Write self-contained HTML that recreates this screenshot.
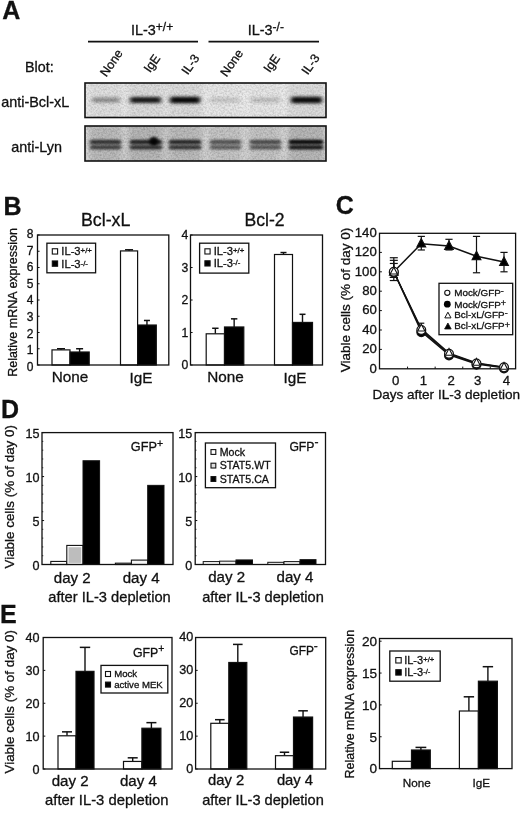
<!DOCTYPE html>
<html><head><meta charset="utf-8"><title>Figure</title>
<style>
html,body{margin:0;padding:0;background:#fff;}
svg{display:block;}
text{font-family:"Liberation Sans",sans-serif;fill:#111;stroke:#111;stroke-width:0.3px;}
</style></head>
<body>
<svg width="520" height="813" viewBox="0 0 520 813">
<rect x="0" y="0" width="520" height="813" fill="#fff"/>
<text x="2.2" y="19.2" font-size="25" text-anchor="start" font-weight="bold">A</text>
<text x="131" y="34.5" font-size="14.4" text-anchor="start">IL-3<tspan font-size="12" dy="-3.3">+/+</tspan></text>
<text x="247.8" y="34.5" font-size="14.4" text-anchor="start">IL-3<tspan font-size="12" dy="-3.3">-/-</tspan></text>
<line x1="88" y1="41.6" x2="198" y2="41.6" stroke="#111" stroke-width="1.6"/>
<line x1="208.5" y1="41.6" x2="319" y2="41.6" stroke="#111" stroke-width="1.6"/>
<text x="25" y="71.8" font-size="14.3" text-anchor="start">Blot:</text>
<text x="111.2" y="67.2" font-size="12.4" text-anchor="middle" transform="rotate(-55 111.2 62.8)">None</text>
<text x="151.8" y="67.6" font-size="12.4" text-anchor="middle" transform="rotate(-55 151.8 63.2)">IgE</text>
<text x="190.2" y="68.6" font-size="12.4" text-anchor="middle" transform="rotate(-55 190.2 64.2)">IL-3</text>
<text x="231.5" y="67.2" font-size="12.4" text-anchor="middle" transform="rotate(-55 231.5 62.8)">None</text>
<text x="271.6" y="67.6" font-size="12.4" text-anchor="middle" transform="rotate(-55 271.6 63.2)">IgE</text>
<text x="310.4" y="68.6" font-size="12.4" text-anchor="middle" transform="rotate(-55 310.4 64.2)">IL-3</text>
<text x="1.2" y="106.9" font-size="14.4" text-anchor="start">anti-Bcl-xL</text>
<text x="11.3" y="152.4" font-size="14.4" text-anchor="start">anti-Lyn</text>
<defs><filter id="b1" x="-20%" y="-100%" width="140%" height="300%"><feGaussianBlur stdDeviation="2 1.4"/></filter><filter id="b2" x="-20%" y="-100%" width="140%" height="300%"><feGaussianBlur stdDeviation="1.8 1.05"/></filter><filter id="b3" x="-20%" y="-20%" width="140%" height="140%"><feGaussianBlur stdDeviation="3 2"/></filter><filter id="gr" x="0" y="0" width="100%" height="100%"><feTurbulence type="fractalNoise" baseFrequency="0.55" numOctaves="2" seed="7"/><feColorMatrix type="matrix" values="0 0 0 0 0  0 0 0 0 0  0 0 0 0 0  0.9 0 0 0 -0.32"/></filter><clipPath id="c1"><rect x="85" y="83" width="241" height="34.5"/></clipPath><clipPath id="c2"><rect x="85" y="126" width="241" height="35"/></clipPath></defs>
<rect x="85" y="83" width="241" height="34.5" fill="#efefef"/>
<g clip-path="url(#c1)">
<rect x="88" y="80" width="35" height="40" fill="#000" opacity="0.06" filter="url(#b3)"/>
<rect x="127" y="80" width="37" height="40" fill="#000" opacity="0.08" filter="url(#b3)"/>
<rect x="167" y="80" width="36" height="40" fill="#000" opacity="0.08" filter="url(#b3)"/>
<rect x="207" y="80" width="36" height="40" fill="#000" opacity="0.03" filter="url(#b3)"/>
<rect x="247" y="80" width="35" height="40" fill="#000" opacity="0.03" filter="url(#b3)"/>
<rect x="287" y="80" width="38" height="40" fill="#000" opacity="0.08" filter="url(#b3)"/>
<rect x="92" y="97.5" width="28" height="5" rx="2" fill="#000" opacity="0.36" filter="url(#b1)"/>
<rect x="130" y="97" width="31" height="6" rx="2" fill="#000" opacity="0.88" filter="url(#b1)"/>
<rect x="170" y="96.75" width="30" height="6.5" rx="2" fill="#000" opacity="0.96" filter="url(#b1)"/>
<rect x="210" y="97.5" width="30" height="5" rx="2" fill="#000" opacity="0.13" filter="url(#b1)"/>
<rect x="251" y="97.5" width="29" height="5" rx="2" fill="#000" opacity="0.17" filter="url(#b1)"/>
<rect x="291" y="96.75" width="31" height="6.5" rx="2" fill="#000" opacity="0.94" filter="url(#b1)"/>
<rect x="85" y="83" width="241" height="34.5" filter="url(#gr)" opacity="0.35"/>
</g>
<rect x="85" y="83" width="241" height="34.5" fill="none" stroke="#111" stroke-width="1.6"/>
<rect x="85" y="126" width="241" height="35" fill="#e2e2e2"/>
<g clip-path="url(#c2)">
<rect x="88" y="122" width="35" height="44" fill="#000" opacity="0.16" filter="url(#b3)"/>
<rect x="127" y="122" width="37" height="44" fill="#000" opacity="0.18" filter="url(#b3)"/>
<rect x="167" y="122" width="36" height="44" fill="#000" opacity="0.16" filter="url(#b3)"/>
<rect x="207" y="122" width="36" height="44" fill="#000" opacity="0.12" filter="url(#b3)"/>
<rect x="247" y="122" width="35" height="44" fill="#000" opacity="0.12" filter="url(#b3)"/>
<rect x="287" y="122" width="38" height="44" fill="#000" opacity="0.18" filter="url(#b3)"/>
<rect x="90" y="139.5" width="31" height="10" rx="2" fill="#000" opacity="0.2048" filter="url(#b1)"/>
<rect x="90" y="139.9" width="31" height="4.2" rx="1.5" fill="#000" opacity="0.64" filter="url(#b2)"/>
<rect x="90" y="145.4" width="31" height="3.8" rx="1.5" fill="#000" opacity="0.576" filter="url(#b2)"/>
<rect x="130" y="139.5" width="32" height="10" rx="2" fill="#000" opacity="0.2304" filter="url(#b1)"/>
<rect x="130" y="139.9" width="32" height="4.2" rx="1.5" fill="#000" opacity="0.72" filter="url(#b2)"/>
<rect x="130" y="145.4" width="32" height="3.8" rx="1.5" fill="#000" opacity="0.648" filter="url(#b2)"/>
<rect x="169" y="139.5" width="32" height="10" rx="2" fill="#000" opacity="0.224" filter="url(#b1)"/>
<rect x="169" y="139.9" width="32" height="4.2" rx="1.5" fill="#000" opacity="0.7" filter="url(#b2)"/>
<rect x="169" y="145.4" width="32" height="3.8" rx="1.5" fill="#000" opacity="0.63" filter="url(#b2)"/>
<rect x="210" y="139.5" width="31" height="10" rx="2" fill="#000" opacity="0.1536" filter="url(#b1)"/>
<rect x="210" y="139.9" width="31" height="4.2" rx="1.5" fill="#000" opacity="0.48" filter="url(#b2)"/>
<rect x="210" y="145.4" width="31" height="3.8" rx="1.5" fill="#000" opacity="0.432" filter="url(#b2)"/>
<rect x="250" y="139.5" width="31" height="10" rx="2" fill="#000" opacity="0.1664" filter="url(#b1)"/>
<rect x="250" y="139.9" width="31" height="4.2" rx="1.5" fill="#000" opacity="0.52" filter="url(#b2)"/>
<rect x="250" y="145.4" width="31" height="3.8" rx="1.5" fill="#000" opacity="0.468" filter="url(#b2)"/>
<rect x="289" y="139.5" width="34" height="10" rx="2" fill="#000" opacity="0.288" filter="url(#b1)"/>
<rect x="289" y="139.9" width="34" height="4.2" rx="1.5" fill="#000" opacity="0.9" filter="url(#b2)"/>
<rect x="289" y="145.4" width="34" height="3.8" rx="1.5" fill="#000" opacity="0.81" filter="url(#b2)"/>
<ellipse cx="153.8" cy="141.2" rx="4.5" ry="4.5" fill="#000" opacity="0.9" filter="url(#b2)"/>
<rect x="85" y="126" width="241" height="35" filter="url(#gr)" opacity="0.4"/>
</g>
<rect x="85" y="126" width="241" height="35" fill="none" stroke="#111" stroke-width="1.6"/>
<text x="3.4" y="214.8" font-size="25" text-anchor="start" font-weight="bold">B</text>
<text x="81" y="225.6" font-size="17.8" text-anchor="start">Bcl-xL</text>
<text x="33.5" y="370.72" font-size="12" text-anchor="end">0</text>
<line x1="37.5" y1="365" x2="39.6" y2="365" stroke="#111" stroke-width="1"/>
<text x="33.5" y="354.12" font-size="12" text-anchor="end">1</text>
<line x1="37.5" y1="348.75" x2="39.6" y2="348.75" stroke="#111" stroke-width="1"/>
<text x="33.5" y="337.52" font-size="12" text-anchor="end">2</text>
<line x1="37.5" y1="332.5" x2="39.6" y2="332.5" stroke="#111" stroke-width="1"/>
<text x="33.5" y="320.92" font-size="12" text-anchor="end">3</text>
<line x1="37.5" y1="316.25" x2="39.6" y2="316.25" stroke="#111" stroke-width="1"/>
<text x="33.5" y="304.32" font-size="12" text-anchor="end">4</text>
<line x1="37.5" y1="300" x2="39.6" y2="300" stroke="#111" stroke-width="1"/>
<text x="33.5" y="287.72" font-size="12" text-anchor="end">5</text>
<line x1="37.5" y1="283.75" x2="39.6" y2="283.75" stroke="#111" stroke-width="1"/>
<text x="33.5" y="271.12" font-size="12" text-anchor="end">6</text>
<line x1="37.5" y1="267.5" x2="39.6" y2="267.5" stroke="#111" stroke-width="1"/>
<text x="33.5" y="254.52" font-size="12" text-anchor="end">7</text>
<line x1="37.5" y1="251.25" x2="39.6" y2="251.25" stroke="#111" stroke-width="1"/>
<text x="33.5" y="237.92" font-size="12" text-anchor="end">8</text>
<line x1="37.5" y1="235" x2="39.6" y2="235" stroke="#111" stroke-width="1"/>
<line x1="61" y1="348.75" x2="61" y2="349.887" stroke="#111" stroke-width="1.4"/>
<line x1="57" y1="348.75" x2="65" y2="348.75" stroke="#111" stroke-width="1.5"/>
<rect x="52" y="349.887" width="18" height="15.1125" fill="#fff" stroke="#111" stroke-width="1.2"/>
<line x1="79.6" y1="348.75" x2="79.6" y2="352" stroke="#111" stroke-width="1.4"/>
<line x1="76.1" y1="348.75" x2="83.1" y2="348.75" stroke="#111" stroke-width="1.5"/>
<rect x="70" y="352" width="19.2" height="13" fill="#000" stroke="#111" stroke-width="1.2"/>
<line x1="129.05" y1="249.788" x2="129.05" y2="250.925" stroke="#111" stroke-width="1.4"/>
<line x1="125.05" y1="249.788" x2="133.05" y2="249.788" stroke="#111" stroke-width="1.5"/>
<rect x="120.5" y="250.925" width="17.1" height="114.075" fill="#fff" stroke="#111" stroke-width="1.2"/>
<line x1="146.95" y1="320.475" x2="146.95" y2="325.025" stroke="#111" stroke-width="1.4"/>
<line x1="143.95" y1="320.475" x2="149.95" y2="320.475" stroke="#111" stroke-width="1.5"/>
<rect x="137.6" y="325.025" width="18.7" height="39.975" fill="#000" stroke="#111" stroke-width="1.2"/>
<rect x="37.5" y="235" width="131.3" height="130" fill="none" stroke="#111" stroke-width="1.3"/>
<rect x="46.9" y="243.2" width="48.7" height="29.6" fill="#fff" stroke="#111" stroke-width="1.3"/>
<rect x="52.3" y="248.75" width="5.3" height="5.3" fill="#fff" stroke="#111" stroke-width="1.1"/>
<text x="61.3" y="255.432" font-size="11.2" text-anchor="start">IL-3<tspan font-size="7.84" dy="-2.016">+/+</tspan></text>
<rect x="52.3" y="260.95" width="5.3" height="5.3" fill="#000" stroke="#111" stroke-width="1.1"/>
<text x="61.3" y="267.632" font-size="11.2" text-anchor="start">IL-3<tspan font-size="7.84" dy="-2.016">-/-</tspan></text>
<text x="70" y="382" font-size="15.3" text-anchor="middle">None</text>
<text x="141" y="383.3" font-size="15.3" text-anchor="middle">IgE</text>
<text x="16.6" y="302.5" font-size="12.5" text-anchor="middle" transform="rotate(-90 16.6 302.5)">Relative mRNA expression</text>
<text x="264.5" y="226" font-size="17.6" text-anchor="middle">Bcl-2</text>
<text x="188.4" y="369.392" font-size="12.2" text-anchor="end">0</text>
<line x1="190.5" y1="365" x2="192.6" y2="365" stroke="#111" stroke-width="1"/>
<text x="188.4" y="336.892" font-size="12.2" text-anchor="end">1</text>
<line x1="190.5" y1="332.5" x2="192.6" y2="332.5" stroke="#111" stroke-width="1"/>
<text x="188.4" y="304.392" font-size="12.2" text-anchor="end">2</text>
<line x1="190.5" y1="300" x2="192.6" y2="300" stroke="#111" stroke-width="1"/>
<text x="188.4" y="271.892" font-size="12.2" text-anchor="end">3</text>
<line x1="190.5" y1="267.5" x2="192.6" y2="267.5" stroke="#111" stroke-width="1"/>
<text x="188.4" y="239.392" font-size="12.2" text-anchor="end">4</text>
<line x1="190.5" y1="235" x2="192.6" y2="235" stroke="#111" stroke-width="1"/>
<line x1="215.35" y1="328.275" x2="215.35" y2="333.8" stroke="#111" stroke-width="1.4"/>
<line x1="212.15" y1="328.275" x2="218.55" y2="328.275" stroke="#111" stroke-width="1.5"/>
<rect x="206.2" y="333.8" width="18.3" height="31.2" fill="#fff" stroke="#111" stroke-width="1.2"/>
<line x1="234.15" y1="318.85" x2="234.15" y2="326.975" stroke="#111" stroke-width="1.4"/>
<line x1="230.95" y1="318.85" x2="237.35" y2="318.85" stroke="#111" stroke-width="1.5"/>
<rect x="224.5" y="326.975" width="19.3" height="38.025" fill="#000" stroke="#111" stroke-width="1.2"/>
<line x1="283.5" y1="252.55" x2="283.5" y2="254.5" stroke="#111" stroke-width="1.4"/>
<line x1="280.5" y1="252.55" x2="286.5" y2="252.55" stroke="#111" stroke-width="1.5"/>
<rect x="274.5" y="254.5" width="18" height="110.5" fill="#fff" stroke="#111" stroke-width="1.2"/>
<line x1="302.5" y1="314.3" x2="302.5" y2="322.425" stroke="#111" stroke-width="1.4"/>
<line x1="299.5" y1="314.3" x2="305.5" y2="314.3" stroke="#111" stroke-width="1.5"/>
<rect x="292.5" y="322.425" width="20" height="42.575" fill="#000" stroke="#111" stroke-width="1.2"/>
<rect x="190.5" y="235" width="132" height="130" fill="none" stroke="#111" stroke-width="1.3"/>
<rect x="199.6" y="243.2" width="49.2" height="29.9" fill="#fff" stroke="#111" stroke-width="1.3"/>
<rect x="204.9" y="248.8" width="5.2" height="5.2" fill="#fff" stroke="#111" stroke-width="1.1"/>
<text x="213.7" y="255.432" font-size="11.2" text-anchor="start">IL-3<tspan font-size="7.84" dy="-2.016">+/+</tspan></text>
<rect x="204.9" y="260.8" width="5.2" height="5.2" fill="#000" stroke="#111" stroke-width="1.1"/>
<text x="213.7" y="267.432" font-size="11.2" text-anchor="start">IL-3<tspan font-size="7.84" dy="-2.016">-/-</tspan></text>
<text x="225.5" y="382" font-size="15.3" text-anchor="middle">None</text>
<text x="295" y="383" font-size="15.3" text-anchor="middle">IgE</text>
<text x="335.7" y="213.6" font-size="25" text-anchor="start" font-weight="bold">C</text>
<text x="376.8" y="372.5" font-size="13.2" text-anchor="end">0</text>
<text x="376.8" y="353.1" font-size="13.2" text-anchor="end">20</text>
<line x1="379.5" y1="349.4" x2="381.9" y2="349.4" stroke="#111" stroke-width="1"/>
<text x="376.8" y="333.7" font-size="13.2" text-anchor="end">40</text>
<line x1="379.5" y1="330" x2="381.9" y2="330" stroke="#111" stroke-width="1"/>
<text x="376.8" y="314.3" font-size="13.2" text-anchor="end">60</text>
<line x1="379.5" y1="310.6" x2="381.9" y2="310.6" stroke="#111" stroke-width="1"/>
<text x="376.8" y="294.9" font-size="13.2" text-anchor="end">80</text>
<line x1="379.5" y1="291.2" x2="381.9" y2="291.2" stroke="#111" stroke-width="1"/>
<text x="376.8" y="275.5" font-size="13.2" text-anchor="end">100</text>
<line x1="379.5" y1="271.8" x2="381.9" y2="271.8" stroke="#111" stroke-width="1"/>
<text x="376.8" y="256.1" font-size="13.2" text-anchor="end">120</text>
<line x1="379.5" y1="252.4" x2="381.9" y2="252.4" stroke="#111" stroke-width="1"/>
<text x="376.8" y="236.7" font-size="13.2" text-anchor="end">140</text>
<text x="395.6" y="384.6" font-size="13.2" text-anchor="middle">0</text>
<text x="423.3" y="384.6" font-size="13.2" text-anchor="middle">1</text>
<text x="451.1" y="384.6" font-size="13.2" text-anchor="middle">2</text>
<text x="477.7" y="384.6" font-size="13.2" text-anchor="middle">3</text>
<text x="506.3" y="384.6" font-size="13.2" text-anchor="middle">4</text>
<line x1="407.55" y1="368.8" x2="407.55" y2="366.6" stroke="#111" stroke-width="1"/>
<line x1="435.15" y1="368.8" x2="435.15" y2="366.6" stroke="#111" stroke-width="1"/>
<line x1="462.75" y1="368.8" x2="462.75" y2="366.6" stroke="#111" stroke-width="1"/>
<line x1="490.25" y1="368.8" x2="490.25" y2="366.6" stroke="#111" stroke-width="1"/>
<text x="446.2" y="399" font-size="13.55" text-anchor="middle">Days after IL-3 depletion</text>
<text x="349.6" y="300" font-size="13.5" text-anchor="middle" transform="rotate(-90 349.6 300)">Viable cells (% of day 0)</text>
<rect x="379.5" y="233.3" width="136.1" height="135.5" fill="none" stroke="#111" stroke-width="1.3"/>
<line x1="393.8" y1="280.53" x2="393.8" y2="257.735" stroke="#111" stroke-width="1.2"/>
<line x1="389.8" y1="280.53" x2="397.8" y2="280.53" stroke="#111" stroke-width="1.2"/>
<line x1="389.8" y1="257.735" x2="397.8" y2="257.735" stroke="#111" stroke-width="1.2"/>
<line x1="393.8" y1="277.426" x2="393.8" y2="260.354" stroke="#111" stroke-width="1.2"/>
<line x1="389.8" y1="277.426" x2="397.8" y2="277.426" stroke="#111" stroke-width="1.2"/>
<line x1="389.8" y1="260.354" x2="397.8" y2="260.354" stroke="#111" stroke-width="1.2"/>
<line x1="393.8" y1="277.426" x2="393.8" y2="263.458" stroke="#111" stroke-width="1.2"/>
<line x1="389.8" y1="277.426" x2="397.8" y2="277.426" stroke="#111" stroke-width="1.2"/>
<line x1="389.8" y1="263.458" x2="397.8" y2="263.458" stroke="#111" stroke-width="1.2"/>
<line x1="421.3" y1="249.975" x2="421.3" y2="236.395" stroke="#111" stroke-width="1.2"/>
<line x1="417.7" y1="249.975" x2="424.9" y2="249.975" stroke="#111" stroke-width="1.2"/>
<line x1="417.7" y1="236.395" x2="424.9" y2="236.395" stroke="#111" stroke-width="1.2"/>
<line x1="449" y1="249.975" x2="449" y2="239.305" stroke="#111" stroke-width="1.2"/>
<line x1="445.4" y1="249.975" x2="452.6" y2="249.975" stroke="#111" stroke-width="1.2"/>
<line x1="445.4" y1="239.305" x2="452.6" y2="239.305" stroke="#111" stroke-width="1.2"/>
<line x1="476.5" y1="272.77" x2="476.5" y2="236.395" stroke="#111" stroke-width="1.2"/>
<line x1="472.9" y1="272.77" x2="480.1" y2="272.77" stroke="#111" stroke-width="1.2"/>
<line x1="472.9" y1="236.395" x2="480.1" y2="236.395" stroke="#111" stroke-width="1.2"/>
<line x1="504" y1="271.8" x2="504" y2="252.4" stroke="#111" stroke-width="1.2"/>
<line x1="500.4" y1="271.8" x2="507.6" y2="271.8" stroke="#111" stroke-width="1.2"/>
<line x1="500.4" y1="252.4" x2="507.6" y2="252.4" stroke="#111" stroke-width="1.2"/>
<line x1="421.3" y1="331.94" x2="421.3" y2="323.21" stroke="#111" stroke-width="1.2"/>
<line x1="418.3" y1="331.94" x2="424.3" y2="331.94" stroke="#111" stroke-width="1.2"/>
<line x1="418.3" y1="323.21" x2="424.3" y2="323.21" stroke="#111" stroke-width="1.2"/>
<polyline points="393.8,271.8 421.3,331.455 449,354.735 476.5,363.95 504,367.636" fill="none" stroke="#111" stroke-width="1.5"/>
<polyline points="393.8,271.8 421.3,330 449,353.765 476.5,363.465 504,367.345" fill="none" stroke="#111" stroke-width="1.3"/>
<polyline points="393.8,271.8 421.3,328.836 449,353.086 476.5,362.98 504,367.054" fill="none" stroke="#111" stroke-width="1.3"/>
<polyline points="393.8,271.8 421.3,243.67 449,246.095 476.5,256.28 504,262.1" fill="none" stroke="#111" stroke-width="1.5"/>
<polygon points="393.8,266.74 389.4,275.1 398.2,275.1" fill="#000" stroke="#111" stroke-width="1.1"/>
<polygon points="421.3,238.61 416.9,246.97 425.7,246.97" fill="#000" stroke="#111" stroke-width="1.1"/>
<polygon points="449,241.035 444.6,249.395 453.4,249.395" fill="#000" stroke="#111" stroke-width="1.1"/>
<polygon points="476.5,251.22 472.1,259.58 480.9,259.58" fill="#000" stroke="#111" stroke-width="1.1"/>
<polygon points="504,257.04 499.6,265.4 508.4,265.4" fill="#000" stroke="#111" stroke-width="1.1"/>
<circle cx="393.8" cy="272.576" r="4.4" fill="#000" stroke="#111" stroke-width="1.2"/>
<circle cx="421.3" cy="332.231" r="4.4" fill="#000" stroke="#111" stroke-width="1.2"/>
<circle cx="449" cy="355.511" r="4.4" fill="#000" stroke="#111" stroke-width="1.2"/>
<circle cx="476.5" cy="364.726" r="4.4" fill="#000" stroke="#111" stroke-width="1.2"/>
<circle cx="504" cy="368.412" r="4.4" fill="#000" stroke="#111" stroke-width="1.2"/>
<circle cx="393.8" cy="271.8" r="4.4" fill="#fff" stroke="#111" stroke-width="1.2"/>
<circle cx="421.3" cy="330" r="4.4" fill="#fff" stroke="#111" stroke-width="1.2"/>
<circle cx="449" cy="353.765" r="4.4" fill="#fff" stroke="#111" stroke-width="1.2"/>
<circle cx="476.5" cy="363.465" r="4.4" fill="#fff" stroke="#111" stroke-width="1.2"/>
<circle cx="504" cy="367.345" r="4.4" fill="#fff" stroke="#111" stroke-width="1.2"/>
<polygon points="393.8,267.175 390.2,274.015 397.4,274.015" fill="#fff" stroke="#111" stroke-width="1.1"/>
<polygon points="421.3,324.211 417.7,331.051 424.9,331.051" fill="#fff" stroke="#111" stroke-width="1.1"/>
<polygon points="449,348.461 445.4,355.301 452.6,355.301" fill="#fff" stroke="#111" stroke-width="1.1"/>
<polygon points="476.5,358.355 472.9,365.195 480.1,365.195" fill="#fff" stroke="#111" stroke-width="1.1"/>
<polygon points="504,362.429 500.4,369.269 507.6,369.269" fill="#fff" stroke="#111" stroke-width="1.1"/>
<rect x="439" y="283.3" width="73.7" height="51.4" fill="#fff" stroke="#111" stroke-width="1.3"/>
<text x="454.2" y="296.1" font-size="9.9" text-anchor="start">Mock/GFP<tspan font-size="9" dy="-2.4">-</tspan></text>
<text x="454.2" y="307.5" font-size="9.9" text-anchor="start">Mock/GFP<tspan font-size="9" dy="-1.5">+</tspan></text>
<text x="454.2" y="318.3" font-size="9.9" text-anchor="start">Bcl-xL/GFP<tspan font-size="9" dy="-2.4">-</tspan></text>
<text x="454.2" y="329" font-size="9.9" text-anchor="start">Bcl-xL/GFP<tspan font-size="9" dy="-1.5">+</tspan></text>
<circle cx="447.3" cy="292.8" r="2.6" fill="#fff" stroke="#111" stroke-width="1.1"/>
<circle cx="447.3" cy="304.2" r="3.4" fill="#000"/>
<polygon points="447.9,312.2 444.8,317.9 451,317.9" fill="#fff" stroke="#111" stroke-width="1"/>
<polygon points="447.9,323 444.6,329 451.2,329" fill="#000" stroke="#111" stroke-width="0.8"/>
<text x="1.1" y="417.7" font-size="25" text-anchor="start" font-weight="bold">D</text>
<text x="39.6" y="569.536" font-size="12.6" text-anchor="end">0</text>
<line x1="42" y1="564.5" x2="44.1" y2="564.5" stroke="#111" stroke-width="1"/>
<text x="39.6" y="525.569" font-size="12.6" text-anchor="end">5</text>
<line x1="42" y1="520.533" x2="44.1" y2="520.533" stroke="#111" stroke-width="1"/>
<text x="39.6" y="481.603" font-size="12.6" text-anchor="end">10</text>
<line x1="42" y1="476.567" x2="44.1" y2="476.567" stroke="#111" stroke-width="1"/>
<text x="39.6" y="437.636" font-size="12.6" text-anchor="end">15</text>
<line x1="42" y1="432.6" x2="44.1" y2="432.6" stroke="#111" stroke-width="1"/>
<line x1="42" y1="555.707" x2="43.3" y2="555.707" stroke="#111" stroke-width="0.8"/>
<line x1="42" y1="546.913" x2="43.3" y2="546.913" stroke="#111" stroke-width="0.8"/>
<line x1="42" y1="538.12" x2="43.3" y2="538.12" stroke="#111" stroke-width="0.8"/>
<line x1="42" y1="529.327" x2="43.3" y2="529.327" stroke="#111" stroke-width="0.8"/>
<line x1="42" y1="520.533" x2="43.3" y2="520.533" stroke="#111" stroke-width="0.8"/>
<line x1="42" y1="511.74" x2="43.3" y2="511.74" stroke="#111" stroke-width="0.8"/>
<line x1="42" y1="502.947" x2="43.3" y2="502.947" stroke="#111" stroke-width="0.8"/>
<line x1="42" y1="494.153" x2="43.3" y2="494.153" stroke="#111" stroke-width="0.8"/>
<line x1="42" y1="485.36" x2="43.3" y2="485.36" stroke="#111" stroke-width="0.8"/>
<line x1="42" y1="476.567" x2="43.3" y2="476.567" stroke="#111" stroke-width="0.8"/>
<line x1="42" y1="467.773" x2="43.3" y2="467.773" stroke="#111" stroke-width="0.8"/>
<line x1="42" y1="458.98" x2="43.3" y2="458.98" stroke="#111" stroke-width="0.8"/>
<line x1="42" y1="450.187" x2="43.3" y2="450.187" stroke="#111" stroke-width="0.8"/>
<line x1="42" y1="441.393" x2="43.3" y2="441.393" stroke="#111" stroke-width="0.8"/>
<rect x="50.8" y="561.422" width="16" height="3.07767" fill="#fff" stroke="#111" stroke-width="1.1"/>
<rect x="66.8" y="545.418" width="16.2" height="19.0815" fill="#fff" stroke="#111" stroke-width="1.1"/>
<rect x="68.5" y="547.218" width="12.8" height="15.6815" fill="#bdbdbd"/>
<rect x="83" y="460.739" width="16.6" height="103.761" fill="#000" stroke="#111" stroke-width="1"/>
<rect x="115.4" y="563.181" width="16" height="1.319" fill="#fff" stroke="#111" stroke-width="1.1"/>
<rect x="131.4" y="560.103" width="16.3" height="4.39667" fill="#f4f4f4" stroke="#111" stroke-width="1.1"/>
<rect x="147.7" y="485.36" width="16.3" height="79.14" fill="#000" stroke="#111" stroke-width="1"/>
<rect x="42" y="432.6" width="131" height="131.9" fill="none" stroke="#111" stroke-width="1.3"/>
<text x="130.8" y="450.8" font-size="12.7" text-anchor="start">GFP<tspan font-size="10.5" dy="-4.3">+</tspan></text>
<text x="72.3" y="582.5" font-size="15.1" text-anchor="middle">day 2</text>
<text x="141.2" y="582.5" font-size="15.1" text-anchor="middle">day 4</text>
<text x="109.5" y="601.5" font-size="14.7" text-anchor="middle">after IL-3 depletion</text>
<text x="14" y="496.8" font-size="13.4" text-anchor="middle" transform="rotate(-90 14 496.8)">Viable cells (% of day 0)</text>
<text x="192.3" y="569.536" font-size="12.6" text-anchor="end">0</text>
<line x1="195.2" y1="564.5" x2="197.3" y2="564.5" stroke="#111" stroke-width="1"/>
<text x="192.3" y="525.569" font-size="12.6" text-anchor="end">5</text>
<line x1="195.2" y1="520.533" x2="197.3" y2="520.533" stroke="#111" stroke-width="1"/>
<text x="192.3" y="481.603" font-size="12.6" text-anchor="end">10</text>
<line x1="195.2" y1="476.567" x2="197.3" y2="476.567" stroke="#111" stroke-width="1"/>
<text x="192.3" y="437.636" font-size="12.6" text-anchor="end">15</text>
<line x1="195.2" y1="432.6" x2="197.3" y2="432.6" stroke="#111" stroke-width="1"/>
<line x1="195.2" y1="555.707" x2="196.5" y2="555.707" stroke="#111" stroke-width="0.8"/>
<line x1="195.2" y1="546.913" x2="196.5" y2="546.913" stroke="#111" stroke-width="0.8"/>
<line x1="195.2" y1="538.12" x2="196.5" y2="538.12" stroke="#111" stroke-width="0.8"/>
<line x1="195.2" y1="529.327" x2="196.5" y2="529.327" stroke="#111" stroke-width="0.8"/>
<line x1="195.2" y1="520.533" x2="196.5" y2="520.533" stroke="#111" stroke-width="0.8"/>
<line x1="195.2" y1="511.74" x2="196.5" y2="511.74" stroke="#111" stroke-width="0.8"/>
<line x1="195.2" y1="502.947" x2="196.5" y2="502.947" stroke="#111" stroke-width="0.8"/>
<line x1="195.2" y1="494.153" x2="196.5" y2="494.153" stroke="#111" stroke-width="0.8"/>
<line x1="195.2" y1="485.36" x2="196.5" y2="485.36" stroke="#111" stroke-width="0.8"/>
<line x1="195.2" y1="476.567" x2="196.5" y2="476.567" stroke="#111" stroke-width="0.8"/>
<line x1="195.2" y1="467.773" x2="196.5" y2="467.773" stroke="#111" stroke-width="0.8"/>
<line x1="195.2" y1="458.98" x2="196.5" y2="458.98" stroke="#111" stroke-width="0.8"/>
<line x1="195.2" y1="450.187" x2="196.5" y2="450.187" stroke="#111" stroke-width="0.8"/>
<line x1="195.2" y1="441.393" x2="196.5" y2="441.393" stroke="#111" stroke-width="0.8"/>
<rect x="203.2" y="561.598" width="16.4" height="2.9018" fill="#fff" stroke="#111" stroke-width="1"/>
<rect x="219.6" y="561.159" width="16.4" height="3.34147" fill="#f0f0f0" stroke="#111" stroke-width="1"/>
<rect x="236" y="559.927" width="16.5" height="4.57253" fill="#000" stroke="#111" stroke-width="1"/>
<rect x="267.8" y="562.302" width="16.2" height="2.19833" fill="#fff" stroke="#111" stroke-width="1"/>
<rect x="284" y="561.598" width="16" height="2.9018" fill="#f0f0f0" stroke="#111" stroke-width="1"/>
<rect x="300" y="559.664" width="16" height="4.83633" fill="#000" stroke="#111" stroke-width="1"/>
<rect x="195.2" y="432.6" width="130.3" height="131.9" fill="none" stroke="#111" stroke-width="1.3"/>
<text x="289.4" y="450.8" font-size="12.2" text-anchor="start">GFP<tspan font-size="12" dy="-5">-</tspan></text>
<rect x="205.4" y="443" width="70.1" height="44.7" fill="#fff" stroke="#111" stroke-width="1.3"/>
<rect x="211" y="449.6" width="4.8" height="4.8" fill="#fff" stroke="#111" stroke-width="1.1"/>
<text x="219.8" y="455.816" font-size="10.6" text-anchor="start">Mock</text>
<rect x="211" y="463.2" width="4.8" height="4.8" fill="#ddd" stroke="#111" stroke-width="1.1"/>
<text x="219.8" y="469.416" font-size="10.6" text-anchor="start">STAT5.WT</text>
<rect x="211" y="476.6" width="4.8" height="4.8" fill="#000" stroke="#111" stroke-width="1.1"/>
<text x="219.8" y="482.816" font-size="10.6" text-anchor="start">STAT5.CA</text>
<text x="226.6" y="582" font-size="15.1" text-anchor="middle">day 2</text>
<text x="295" y="582" font-size="15.1" text-anchor="middle">day 4</text>
<text x="263" y="601.5" font-size="14.6" text-anchor="middle">after IL-3 depletion</text>
<text x="-0.1" y="623.1" font-size="25" text-anchor="start" font-weight="bold">E</text>
<text x="39.5" y="773.536" font-size="12.6" text-anchor="end">0</text>
<line x1="43.2" y1="769" x2="45.3" y2="769" stroke="#111" stroke-width="1"/>
<text x="39.5" y="740.661" font-size="12.6" text-anchor="end">10</text>
<line x1="43.2" y1="736.125" x2="45.3" y2="736.125" stroke="#111" stroke-width="1"/>
<text x="39.5" y="707.786" font-size="12.6" text-anchor="end">20</text>
<line x1="43.2" y1="703.25" x2="45.3" y2="703.25" stroke="#111" stroke-width="1"/>
<text x="39.5" y="674.911" font-size="12.6" text-anchor="end">30</text>
<line x1="43.2" y1="670.375" x2="45.3" y2="670.375" stroke="#111" stroke-width="1"/>
<text x="39.5" y="642.036" font-size="12.6" text-anchor="end">40</text>
<line x1="43.2" y1="637.5" x2="45.3" y2="637.5" stroke="#111" stroke-width="1"/>
<line x1="67" y1="731.851" x2="67" y2="735.796" stroke="#111" stroke-width="1.4"/>
<line x1="62" y1="731.851" x2="72" y2="731.851" stroke="#111" stroke-width="1.5"/>
<rect x="58" y="735.796" width="18" height="33.2038" fill="#fff" stroke="#111" stroke-width="1.2"/>
<line x1="85" y1="647.362" x2="85" y2="671.361" stroke="#111" stroke-width="1.4"/>
<line x1="79.8" y1="647.362" x2="90.2" y2="647.362" stroke="#111" stroke-width="1.5"/>
<rect x="76" y="671.361" width="18" height="97.6387" fill="#000" stroke="#111" stroke-width="1.2"/>
<line x1="132.7" y1="757.822" x2="132.7" y2="761.439" stroke="#111" stroke-width="1.4"/>
<line x1="127.7" y1="757.822" x2="137.7" y2="757.822" stroke="#111" stroke-width="1.5"/>
<rect x="123.5" y="761.439" width="18.4" height="7.56125" fill="#fff" stroke="#111" stroke-width="1.2"/>
<line x1="151.4" y1="722.646" x2="151.4" y2="728.235" stroke="#111" stroke-width="1.4"/>
<line x1="146.4" y1="722.646" x2="156.4" y2="722.646" stroke="#111" stroke-width="1.5"/>
<rect x="141.9" y="728.235" width="19" height="40.765" fill="#000" stroke="#111" stroke-width="1.2"/>
<rect x="43.2" y="637.5" width="128.8" height="131.5" fill="none" stroke="#111" stroke-width="1.3"/>
<text x="133" y="656.7" font-size="12.3" text-anchor="start">GFP<tspan font-size="10.5" dy="-4.3">+</tspan></text>
<rect x="101" y="665.4" width="66.8" height="27.6" fill="#fff" stroke="#111" stroke-width="1.3"/>
<rect x="105.5" y="671.5" width="5" height="5" fill="#fff" stroke="#111" stroke-width="1.1"/>
<text x="114.2" y="677.456" font-size="9.6" text-anchor="start">Mock</text>
<rect x="105.5" y="682.1" width="5" height="5" fill="#000" stroke="#111" stroke-width="1.1"/>
<text x="114.2" y="688.056" font-size="9.6" text-anchor="start">active MEK</text>
<text x="70.2" y="785.5" font-size="15.1" text-anchor="middle">day 2</text>
<text x="138.4" y="785.5" font-size="15.1" text-anchor="middle">day 4</text>
<text x="106.8" y="804.8" font-size="14.8" text-anchor="middle">after IL-3 depletion</text>
<text x="14.2" y="701.8" font-size="13.4" text-anchor="middle" transform="rotate(-90 14.2 701.8)">Viable cells (% of day 0)</text>
<text x="193.2" y="772.736" font-size="12.6" text-anchor="end">0</text>
<line x1="195.6" y1="769" x2="197.7" y2="769" stroke="#111" stroke-width="1"/>
<text x="193.2" y="739.861" font-size="12.6" text-anchor="end">10</text>
<line x1="195.6" y1="736.125" x2="197.7" y2="736.125" stroke="#111" stroke-width="1"/>
<text x="193.2" y="706.986" font-size="12.6" text-anchor="end">20</text>
<line x1="195.6" y1="703.25" x2="197.7" y2="703.25" stroke="#111" stroke-width="1"/>
<text x="193.2" y="674.111" font-size="12.6" text-anchor="end">30</text>
<line x1="195.6" y1="670.375" x2="197.7" y2="670.375" stroke="#111" stroke-width="1"/>
<text x="193.2" y="641.236" font-size="12.6" text-anchor="end">40</text>
<line x1="195.6" y1="637.5" x2="197.7" y2="637.5" stroke="#111" stroke-width="1"/>
<line x1="219.8" y1="719.688" x2="219.8" y2="723.304" stroke="#111" stroke-width="1.4"/>
<line x1="215" y1="719.688" x2="224.6" y2="719.688" stroke="#111" stroke-width="1.5"/>
<rect x="210.8" y="723.304" width="18" height="45.6962" fill="#fff" stroke="#111" stroke-width="1.2"/>
<line x1="237.8" y1="644.404" x2="237.8" y2="662.485" stroke="#111" stroke-width="1.4"/>
<line x1="233" y1="644.404" x2="242.6" y2="644.404" stroke="#111" stroke-width="1.5"/>
<rect x="228.8" y="662.485" width="18" height="106.515" fill="#000" stroke="#111" stroke-width="1.2"/>
<line x1="284.5" y1="752.234" x2="284.5" y2="755.686" stroke="#111" stroke-width="1.4"/>
<line x1="279.8" y1="752.234" x2="289.2" y2="752.234" stroke="#111" stroke-width="1.5"/>
<rect x="275.5" y="755.686" width="18" height="13.3144" fill="#fff" stroke="#111" stroke-width="1.2"/>
<line x1="303.05" y1="710.811" x2="303.05" y2="717.058" stroke="#111" stroke-width="1.4"/>
<line x1="298.25" y1="710.811" x2="307.85" y2="710.811" stroke="#111" stroke-width="1.5"/>
<rect x="293.5" y="717.058" width="19.1" height="51.9425" fill="#000" stroke="#111" stroke-width="1.2"/>
<rect x="195.6" y="637.5" width="130.1" height="131.5" fill="none" stroke="#111" stroke-width="1.3"/>
<text x="289.4" y="654.6" font-size="11.9" text-anchor="start">GFP<tspan font-size="12" dy="-5">-</tspan></text>
<text x="226.2" y="785.4" font-size="14.8" text-anchor="middle">day 2</text>
<text x="295" y="785.4" font-size="14.8" text-anchor="middle">day 4</text>
<text x="263" y="805" font-size="14.6" text-anchor="middle">after IL-3 depletion</text>
<text x="377" y="773.496" font-size="13.6" text-anchor="end">0</text>
<line x1="379.5" y1="768.6" x2="381.6" y2="768.6" stroke="#111" stroke-width="1"/>
<text x="377" y="741.646" font-size="13.6" text-anchor="end">5</text>
<line x1="379.5" y1="736.75" x2="381.6" y2="736.75" stroke="#111" stroke-width="1"/>
<text x="377" y="709.796" font-size="13.6" text-anchor="end">10</text>
<line x1="379.5" y1="704.9" x2="381.6" y2="704.9" stroke="#111" stroke-width="1"/>
<text x="377" y="677.946" font-size="13.6" text-anchor="end">15</text>
<line x1="379.5" y1="673.05" x2="381.6" y2="673.05" stroke="#111" stroke-width="1"/>
<text x="377" y="646.096" font-size="13.6" text-anchor="end">20</text>
<line x1="379.5" y1="641.2" x2="381.6" y2="641.2" stroke="#111" stroke-width="1"/>
<rect x="392.3" y="761.3" width="19.2" height="7.3" fill="#fff" stroke="#111" stroke-width="1.2"/>
<line x1="420.9" y1="747.4" x2="420.9" y2="750" stroke="#111" stroke-width="1.4"/>
<line x1="415.5" y1="747.4" x2="426.3" y2="747.4" stroke="#111" stroke-width="1.5"/>
<rect x="411.5" y="750" width="18.8" height="18.6" fill="#000" stroke="#111" stroke-width="1.2"/>
<line x1="468.9" y1="696.8" x2="468.9" y2="711" stroke="#111" stroke-width="1.4"/>
<line x1="463.7" y1="696.8" x2="474.1" y2="696.8" stroke="#111" stroke-width="1.5"/>
<rect x="459.4" y="711" width="19" height="57.6" fill="#fff" stroke="#111" stroke-width="1.2"/>
<line x1="487.9" y1="666.7" x2="487.9" y2="681.2" stroke="#111" stroke-width="1.4"/>
<line x1="482.7" y1="666.7" x2="493.1" y2="666.7" stroke="#111" stroke-width="1.5"/>
<rect x="478.4" y="681.2" width="19" height="87.4" fill="#000" stroke="#111" stroke-width="1.2"/>
<rect x="379.5" y="638.5" width="132.5" height="130.1" fill="none" stroke="#111" stroke-width="1.3"/>
<rect x="389.8" y="651" width="50.4" height="30.2" fill="#fff" stroke="#111" stroke-width="1.3"/>
<rect x="395.8" y="657.6" width="5.4" height="5.4" fill="#fff" stroke="#111" stroke-width="1.1"/>
<text x="404.2" y="664.26" font-size="11" text-anchor="start">IL-3<tspan font-size="7.7" dy="-1.98">+/+</tspan></text>
<rect x="395.8" y="669.7" width="5.4" height="5.4" fill="#000" stroke="#111" stroke-width="1.1"/>
<text x="404.2" y="676.36" font-size="11" text-anchor="start">IL-3<tspan font-size="7.7" dy="-1.98">-/-</tspan></text>
<text x="416.8" y="786.8" font-size="11.7" text-anchor="middle">None</text>
<text x="481.3" y="786.8" font-size="11.7" text-anchor="middle">IgE</text>
<text x="353.6" y="704.2" font-size="12.5" text-anchor="middle" transform="rotate(-90 353.6 704.2)">Relative mRNA expression</text>
</svg>
</body></html>
